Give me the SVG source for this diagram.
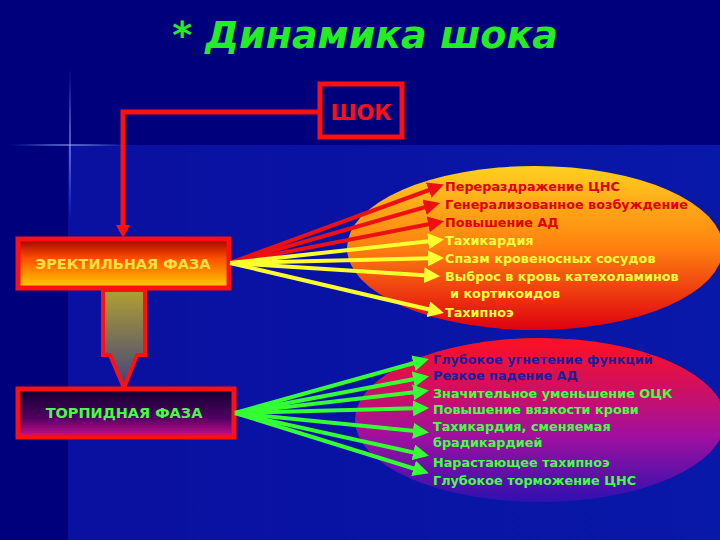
<svg xmlns="http://www.w3.org/2000/svg" width="720" height="540" viewBox="0 0 720 540">
<defs>
<style>
.t{font-family:"DejaVu Sans",Verdana,sans-serif;font-weight:bold;font-size:12.8px}
.r{fill:#e00000}.y{fill:#ffff40}.b{fill:#1c1c9c}.g{fill:#44ff44}
.box{stroke:#ff1010;stroke-width:5}
.bt{font-family:"DejaVu Sans",Verdana,sans-serif;font-weight:bold;font-size:14.5px}
.ar{stroke:#ee1010;stroke-width:4;fill:none;marker-end:url(#mr)}
.ay{stroke:#ffff30;stroke-width:4;fill:none;marker-end:url(#my)}
.ag{stroke:#33ff33;stroke-width:4;fill:none;marker-end:url(#mg)}
</style>
<marker id="mr" markerWidth="4" markerHeight="4" refX="3" refY="2" orient="auto"><path d="M0,0L4,2L0,4z" fill="#ee1010"/></marker>
<marker id="my" markerWidth="4" markerHeight="4" refX="3" refY="2" orient="auto"><path d="M0,0L4,2L0,4z" fill="#ffff30"/></marker>
<marker id="mg" markerWidth="4" markerHeight="4" refX="3" refY="2" orient="auto"><path d="M0,0L4,2L0,4z" fill="#33ff33"/></marker>
<linearGradient id="e1" x1="0" y1="0" x2="0" y2="1"><stop offset="0" stop-color="#ffd020"/><stop offset="0.5" stop-color="#ff8010"/><stop offset="1" stop-color="#e00010"/></linearGradient>
<linearGradient id="e2" x1="0" y1="0" x2="0" y2="1"><stop offset="0" stop-color="#ff1020"/><stop offset="0.6" stop-color="#a010a0"/><stop offset="1" stop-color="#3010b0"/></linearGradient>
<linearGradient id="b1" x1="0" y1="0" x2="0" y2="1"><stop offset="0" stop-color="#a00000"/><stop offset="0.4" stop-color="#ff5000"/><stop offset="1" stop-color="#ffd000"/></linearGradient>
<linearGradient id="b2" x1="0" y1="0" x2="0" y2="1"><stop offset="0" stop-color="#100030"/><stop offset="0.6" stop-color="#500060"/><stop offset="1" stop-color="#d01090"/></linearGradient>
<linearGradient id="sh" x1="0" y1="0" x2="0" y2="1"><stop offset="0" stop-color="#b0a030"/><stop offset="1" stop-color="#404080"/></linearGradient>
<radialGradient id="st"><stop offset="0" stop-color="#fff"/><stop offset="1" stop-color="#4060ff" stop-opacity="0"/></radialGradient>
<linearGradient id="bg" x1="0" y1="0" x2="1" y2="0"><stop offset="0" stop-color="#0a10a0"/><stop offset="1" stop-color="#0818a8"/></linearGradient>
</defs>
<rect width="720" height="540" fill="#00007c"/>
<rect x="68" y="145" width="652" height="395" fill="url(#bg)"/>
<g id="star">
<rect x="0" y="144" width="140" height="2" fill="url(#st)"/>
<rect x="69" y="55" width="2" height="180" fill="url(#st)"/>
</g>
<text x="365" y="48" text-anchor="middle" font-family="'DejaVu Sans',sans-serif" font-style="italic" font-weight="bold" font-size="38" fill="#22ee22">* Динамика шока</text>
<g id="connectors">
<path d="M318,112H123V228" stroke="#ff1010" stroke-width="5" fill="none"/>
<path d="M116,225L123,238L130,225z" fill="#ff1010"/>
<path d="M103,290H145V355H137L124,388L110,355H103z" fill="url(#sh)" stroke="#ff1010" stroke-width="4"/>
</g>
<g id="ellipse1"><ellipse cx="535" cy="248" rx="188" ry="82" fill="url(#e1)"/></g>
<g id="ellipse2"><ellipse cx="540" cy="420" rx="185" ry="82" fill="url(#e2)"/></g>
<g id="shock"><rect class="box" x="320" y="84" width="82" height="53" fill="#00007c"/><text x="361" y="120" text-anchor="middle" font-family="'DejaVu Sans',sans-serif" font-weight="bold" font-size="21" fill="#ff1010">ШОК</text></g>
<g id="erect"><rect class="box" x="18" y="239" width="211" height="49" fill="url(#b1)"/><text x="123" y="269" text-anchor="middle" class="bt" fill="#ffe040">ЭРЕКТИЛЬНАЯ ФАЗА</text></g>
<g id="torp"><rect class="box" x="18" y="389" width="216" height="48" fill="url(#b2)"/><text x="124" y="418" text-anchor="middle" class="bt" fill="#44ff44">ТОРПИДНАЯ ФАЗА</text></g>
<g id="arrows">
<line class="ar" x1="230" y1="263" x2="440" y2="186"/>
<line class="ar" x1="230" y1="263" x2="436" y2="204"/>
<line class="ar" x1="230" y1="263" x2="440" y2="222"/>
<line class="ay" x1="230" y1="263" x2="440" y2="240"/>
<line class="ay" x1="230" y1="263" x2="440" y2="258"/>
<line class="ay" x1="230" y1="263" x2="436" y2="276"/>
<line class="ay" x1="230" y1="263" x2="440" y2="312"/>
<line class="ag" x1="235" y1="413" x2="425" y2="360"/>
<line class="ag" x1="235" y1="413" x2="425" y2="377"/>
<line class="ag" x1="235" y1="413" x2="425" y2="391"/>
<line class="ag" x1="235" y1="413" x2="425" y2="408"/>
<line class="ag" x1="235" y1="413" x2="425" y2="432"/>
<line class="ag" x1="235" y1="413" x2="425" y2="455"/>
<line class="ag" x1="235" y1="413" x2="425" y2="472"/>
</g>
<g id="list1" class="t">
<text x="445" y="191" class="r">Перераздражение ЦНС</text>
<text x="445" y="209" class="r">Генерализованное возбуждение</text>
<text x="445" y="227" class="r">Повышение АД</text>
<text x="445" y="245" class="y">Тахикардия</text>
<text x="445" y="263" class="y">Спазм кровеносных сосудов</text>
<text x="445" y="281" class="y">Выброс в кровь катехоламинов</text>
<text x="450" y="298" class="y">и кортикоидов</text>
<text x="445" y="317" class="y">Тахипноэ</text>
</g>
<g id="list2" class="t">
<text x="433" y="364" class="b">Глубокое угнетение функций</text>
<text x="433" y="380" class="b">Резкое падение АД</text>
<text x="433" y="398" class="g">Значительное уменьшение ОЦК</text>
<text x="433" y="414" class="g">Повышение вязкости крови</text>
<text x="433" y="431" class="g">Тахикардия, сменяемая</text>
<text x="433" y="447" class="g">брадикардией</text>
<text x="433" y="467" class="g">Нарастающее тахипноэ</text>
<text x="433" y="485" class="g">Глубокое торможение ЦНС</text>
</g>
</svg>
